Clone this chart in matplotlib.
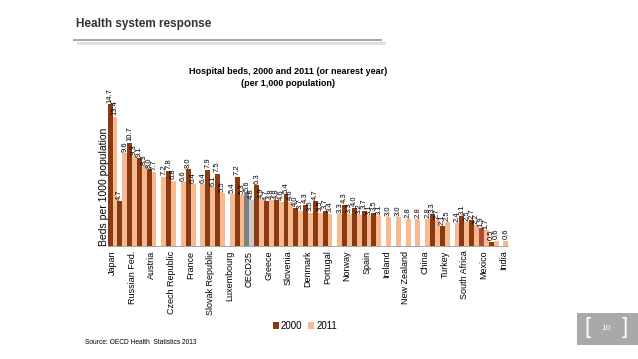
import numpy as np
import matplotlib.pyplot as plt
from matplotlib.patches import Rectangle

nan = np.nan

# Hospital beds per 1,000 population (sorted by 2011)
countries = ["Japan", "Korea", "Russian Fed.", "Germany", "Austria", "Hungary",
             "Czech Republic", "Poland", "France", "Belgium", "Slovak Republic",
             "Finland", "Luxembourg", "Estonia", "OECD25", "Switzerland", "Greece",
             "Netherlands", "Slovenia", "Iceland", "Denmark", "Italy", "Portugal",
             "Israel", "Norway", "Australia", "Spain", "United Kingdom", "Ireland",
             "United States", "New Zealand", "Canada", "China", "Sweden", "Turkey",
             "Chile", "South Africa", "Brazil", "Mexico", "Indonesia", "India"]
beds_2000 = [14.7, 4.7, 10.7, 9.1, 8.0, nan, 7.8, nan, 8.0, nan, 7.9,
             7.5, nan, 7.2, 5.6, 6.3, 4.7,
             4.8, 5.4, 4.0, 4.3, 4.7, 3.7,
             nan, 4.3, 4.0, 3.7, 3.5, nan,
             nan, nan, nan, nan, 3.3, 2.1,
             nan, 3.1, 2.7, 1.9, 0.5, nan]
beds_2011 = [13.4, 9.6, 9.3, 8.3, 7.7, 7.2, 6.8, 6.6, 6.4, 6.4, 6.1,
             5.5, 5.4, 5.3, 4.8, 4.9, 4.8,
             4.6, 4.6, 3.7, 3.5, 3.5, 3.4,
             3.3, 3.3, 3.2, 3.1, 3.1, 3.0,
             3.0, 2.8, 2.8, 2.8, 2.7, 2.5,
             2.4, 2.5, 2.2, 1.7, 0.6, 0.6]
years = ["2000", "2011"]

plt.rcParams["font.family"] = ["Liberation Sans", "DejaVu Sans"]

dark = "#8a3a10"
light = "#f7b98f"
c2000 = [dark] * len(countries)
c2011 = [light] * len(countries)
oecd = countries.index("OECD25")
c2000[oecd] = "#808080"
c2011[oecd] = "#c9c9c9"
c2000[countries.index("Mexico")] = "#b04838"

fig = plt.figure(figsize=(6.38, 3.59), dpi=100)
ax = fig.add_axes([0.1687, 0.3134, 0.628, 0.4323])

x = np.arange(len(countries))
w = 0.5
b1 = ax.bar(x - w / 2, beds_2000, w, color=c2000, label=years[0])
b2 = ax.bar(x + w / 2, beds_2011, w, color=c2011, label=years[1])

lab1 = ["" if np.isnan(v) else f"{v:.1f}" for v in beds_2000]
lab2 = [f"{v:.1f}" for v in beds_2011]
ax.bar_label(b1, labels=lab1, rotation=90, padding=1, fontsize=5.5)
ax.bar_label(b2, labels=lab2, rotation=90, padding=1, fontsize=5.5)

ax.set_xlim(-0.5, len(countries) - 0.5)
ax.set_ylim(0, 16)
ax.set_xticks(x[::2])
ax.set_xticklabels(countries[::2], rotation=90, fontsize=6.5)
ax.tick_params(axis="x", length=0, pad=3)
ax.set_yticks([])
for s in ["top", "right", "left"]:
    ax.spines[s].set_visible(False)
ax.spines["bottom"].set_color("#999999")
ax.spines["bottom"].set_linewidth(0.6)

fig.text(104 / 638, 1 - 246 / 359, "Beds per 1000 population", rotation=90,
         ha="center", va="bottom", fontsize=7.5)

fig.text(288 / 638, 1 - 72 / 359, "Hospital beds, 2000 and 2011 (or nearest year)",
         ha="center", va="center", fontsize=6.5, fontweight="bold")
fig.text(288 / 638, 1 - 84 / 359, "(per 1,000 population)",
         ha="center", va="center", fontsize=6.5, fontweight="bold")

fig.legend(loc="center", bbox_to_anchor=(305 / 638, 1 - 326 / 359), ncol=2,
           frameon=False, fontsize=7, handlelength=0.6, handleheight=0.6,
           handletextpad=0.2, columnspacing=0.6)

# slide header
fig.text(76 / 638, 1 - 24 / 359, "Health system response", ha="left", va="center",
         fontsize=8.5, fontweight="bold", color="#333333")
fig.add_artist(Rectangle((77 / 638, 1 - 45 / 359), 309 / 638, 3 / 359,
                         transform=fig.transFigure, color="#e0e0e0", lw=0))
fig.add_artist(Rectangle((73 / 638, 1 - 41 / 359), 309 / 638, 2 / 359,
                         transform=fig.transFigure, color="#a8a8a8", lw=0))

fig.text(85 / 638, 1 - 342 / 359, "Source: OECD Health  Statistics 2013",
         ha="left", va="center", fontsize=4.8)

# page number box
fig.add_artist(Rectangle((577 / 638, 1 - 345 / 359), 61 / 638, 32 / 359,
                         transform=fig.transFigure, color="#a9a9a9", lw=0))
fig.text(588 / 638, 1 - 328 / 359, "[", ha="center", va="center", fontsize=16,
         color="white", fontweight="light")
fig.text(606 / 638, 1 - 328 / 359, "10", ha="center", va="center", fontsize=6,
         color="white")
fig.text(625 / 638, 1 - 328 / 359, "]", ha="center", va="center", fontsize=16,
         color="white", fontweight="light")

fig.savefig("out.png", dpi=100)
